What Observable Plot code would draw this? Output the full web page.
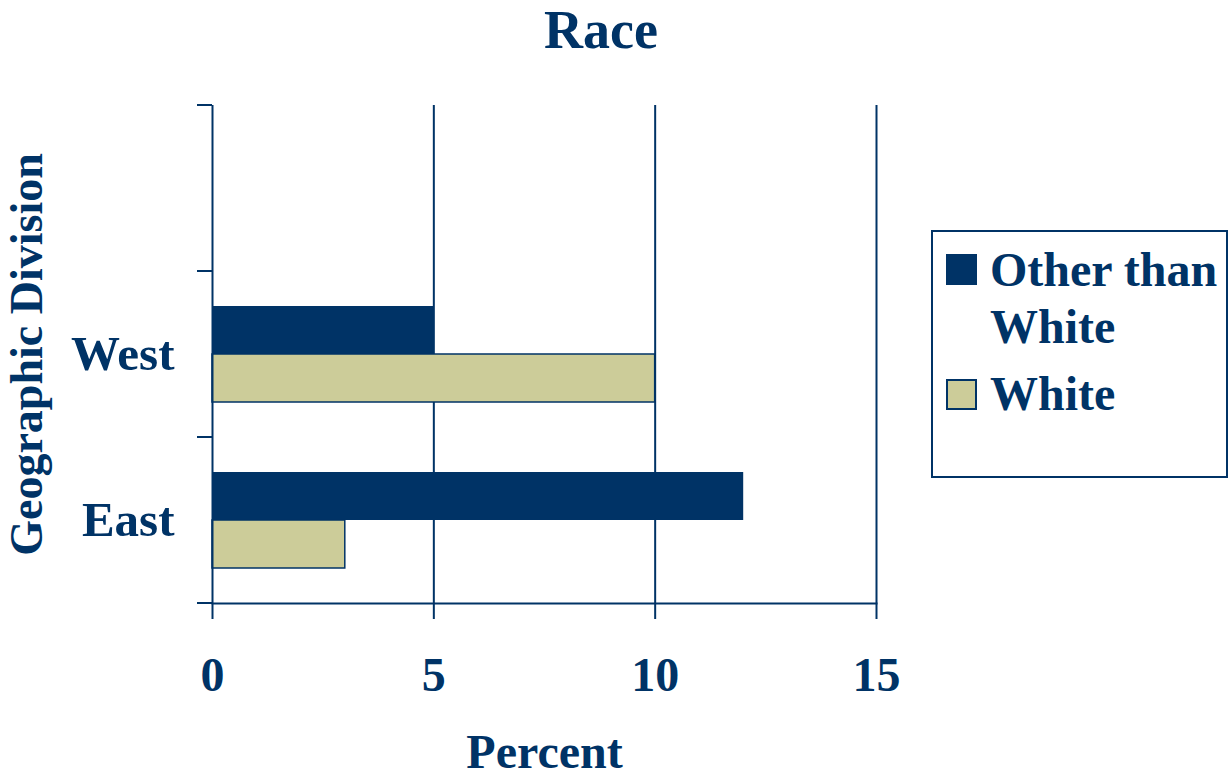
<!DOCTYPE html>
<html><head><meta charset="utf-8">
<script src="https://cdn.jsdelivr.net/npm/d3@7"></script>
<script src="https://cdn.jsdelivr.net/npm/@observablehq/plot@0.6"></script>
<style>
body{margin:0;background:#fff;}
#wrap{position:relative;width:1229px;height:780px;overflow:hidden;font-family:"Liberation Serif","Times New Roman",serif;font-weight:bold;color:#003366;}
#title{height:60px;line-height:60px;font-size:54px;text-align:center;width:1202px;}
#chart svg{display:block;}
#legend{position:absolute;left:931px;top:230px;width:297px;height:248px;border:2px solid #003366;box-sizing:border-box;background:#fff;}
.sw{position:absolute;left:13px;width:31px;height:31px;box-sizing:border-box;}
.lt{position:absolute;left:57px;font-size:48px;line-height:57px;white-space:nowrap;}
</style></head>
<body><div id="wrap"><div id="title">Race</div><div id="chart"></div><div id="legend"></div></div>
<script>
// Data
const categories = ["", "West", "East"];
const seriesNames = ["Other than White", "White"];
const otherThanWhite = [null, 5, 12];
const white = [null, 10, 3];
const xTicks = [0, 5, 10, 15];

const NAVY = "#003366", TAN = "#CCCC99";
const rows = categories.map((c, i) => ({category: c, other: otherThanWhite[i], white: white[i]}));

function bandEdges(index, scales) {
  const y = scales.y, x = scales.x;
  const bw = y.bandwidth ? y.bandwidth() : 0;
  const edges = categories.map(c => y(c));
  edges.push(y(categories[categories.length - 1]) + bw);
  const g = d3.create("svg:g").attr("stroke", NAVY).attr("stroke-width", 2);
  for (const e of edges) {
    g.append("line").attr("x1", x(0) - 15).attr("x2", x(0)).attr("y1", e).attr("y2", e);
  }
  return g.node();
}

const chart = Plot.plot({
  width: 1229, height: 720,
  marginTop: 45, marginBottom: 177, marginLeft: 212, marginRight: 353,
  style: {fontFamily: '"Liberation Serif", "Times New Roman", serif', fontWeight: "bold", color: NAVY, background: "white", overflow: "visible"},
  x: {domain: [0, 15]},
  y: {domain: categories, padding: 0},
  marks: [
    Plot.gridX({ticks: [5, 10, 15], stroke: NAVY, strokeOpacity: 1, strokeWidth: 2}),
    Plot.barX(rows.filter(d => d.other != null), {x: "other", y: "category", fill: NAVY, insetTop: 35, insetBottom: 83}),
    Plot.barX(rows.filter(d => d.white != null), {x: "white", y: "category", fill: TAN, stroke: NAVY, strokeWidth: 1.5, insetTop: 83, insetBottom: 35}),
    Plot.ruleX([0], {stroke: NAVY, strokeWidth: 2}),
    Plot.frame({anchor: "bottom", stroke: NAVY, strokeWidth: 2}),
    bandEdges,
    Plot.axisX({ticks: xTicks, tickSize: 16, tickPadding: 37, fontSize: 48, stroke: NAVY, strokeWidth: 2,
      label: "Percent", labelAnchor: "center", labelOffset: 164, labelArrow: "none"}),
    Plot.axisY({tickSize: 0, tickPadding: 38, fontSize: 49, tickFormat: d => d, label: null}),
    Plot.axisY({ticks: [], tickSize: 0, fontSize: 46,
      label: "Geographic Division", labelAnchor: "center", labelOffset: 203, labelArrow: "none"})
  ]
});
document.getElementById("chart").appendChild(chart);

// Legend (HTML)
const legend = document.getElementById("legend");
const colors = [NAVY, TAN];
const swTops = [22, 147];
const textTops = [9, 133];
seriesNames.forEach((name, i) => {
  const sw = document.createElement("div");
  sw.className = "sw";
  sw.style.top = swTops[i] + "px";
  sw.style.background = colors[i];
  if (i === 1) { sw.style.border = "2px solid " + NAVY; }
  legend.appendChild(sw);
  const t = document.createElement("div");
  t.className = "lt";
  t.style.top = textTops[i] + "px";
  t.innerHTML = name === "Other than White" ? "Other than<br>White" : name;
  legend.appendChild(t);
});
</script>
</body></html>
